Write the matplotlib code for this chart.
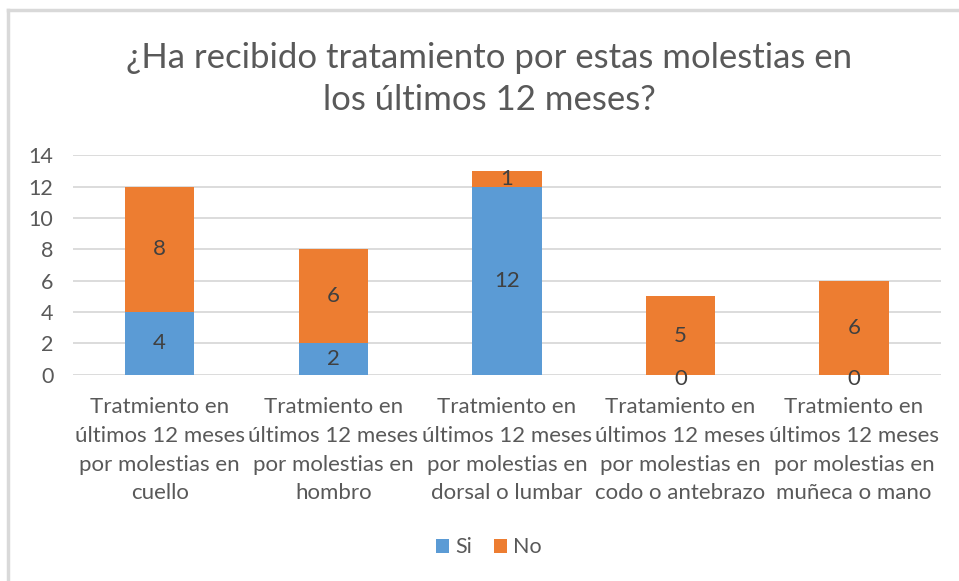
import numpy as np
import matplotlib.pyplot as plt
from matplotlib.lines import Line2D

categorias = [
    "Tratmiento en\núltimos 12 meses\npor molestias en\ncuello",
    "Tratmiento en\núltimos 12 meses\npor molestias en\nhombro",
    "Tratmiento en\núltimos 12 meses\npor molestias en\ndorsal o lumbar",
    "Tratamiento en\núltimos 12 meses\npor molestias en\ncodo o antebrazo",
    "Tratmiento en\núltimos 12 meses\npor molestias en\nmuñeca o mano",
]
si = [4, 2, 12, 0, 0]
no = [8, 6, 1, 5, 6]

plt.rcParams['font.family'] = ['Lato', 'DejaVu Sans']
txt = '#595959'

fig = plt.figure(figsize=(9.59, 5.81), dpi=100)
ax = fig.add_axes([0.076, 0.355, 0.905, 0.378])

x = np.arange(len(categorias))
w = 0.4
b1 = ax.bar(x, si, w, color='#5B9BD5', label='Si', zorder=3)
b2 = ax.bar(x, no, w, bottom=si, color='#ED7D31', label='No', zorder=3)

for i in range(len(x)):
    ys = si[i] / 2 if si[i] else -0.25
    ax.text(x[i], ys, str(si[i]), ha='center', va='center', fontsize=16, color='#404040', zorder=4)
    ax.text(x[i], si[i] + no[i] / 2, str(no[i]), ha='center', va='center', fontsize=16, color='#404040', zorder=4)

ax.set_xlim(-0.5, len(x) - 0.5)
ax.set_ylim(0, 14)
ax.set_yticks(range(0, 15, 2))
ax.yaxis.grid(True, color='#D9D9D9', linewidth=1.3, zorder=0)
ax.set_axisbelow(True)
for s in ax.spines.values():
    s.set_visible(False)
ax.tick_params(length=0, labelsize=15.5, colors=txt)
ax.tick_params(axis='y', pad=14)
ax.set_xticks(x)
ax.set_xticklabels(categorias, fontsize=16, color=txt, linespacing=1.55)
ax.tick_params(axis='x', pad=16)

fig.text(0.51, 0.864, "¿Ha recibido tratamiento por estas molestias en\nlos últimos 12 meses?",
         ha='center', va='center', fontsize=25, color=txt, linespacing=1.4)

fig.legend(handles=[b1, b2], labels=['Si', 'No'], loc='center', bbox_to_anchor=(0.51, 0.058),
           ncol=2, frameon=False, fontsize=15.5, labelcolor=txt, handlelength=0.6, handleheight=0.6,
           handletextpad=0.3, columnspacing=1.0)

# chart frame (top and left edges)
fig.add_artist(Line2D([0.008, 1.0], [0.983, 0.983], color='#D9D9D9', linewidth=2.5))
fig.add_artist(Line2D([0.008, 0.008], [0.0, 0.983], color='#D9D9D9', linewidth=2.5))

fig.savefig('out.png', dpi=100)
